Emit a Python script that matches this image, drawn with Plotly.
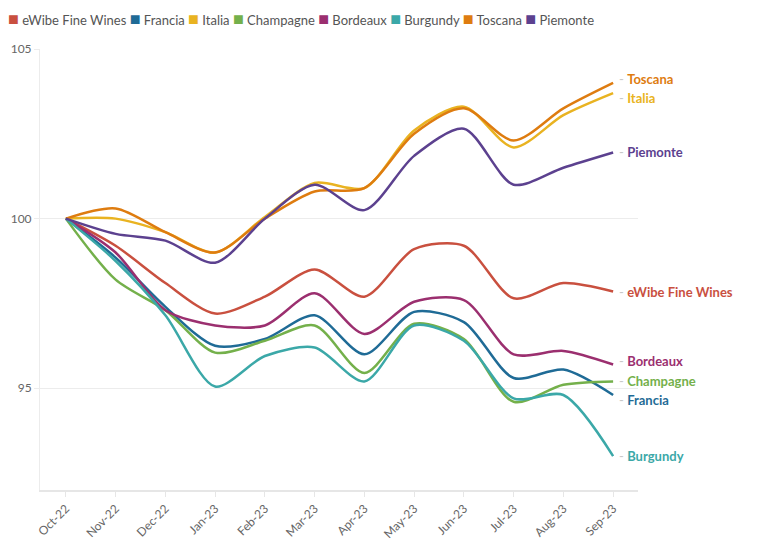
import plotly.graph_objects as go

months = ["Oct-22", "Nov-22", "Dec-22", "Jan-23", "Feb-23", "Mar-23",
          "Apr-23", "May-23", "Jun-23", "Jul-23", "Aug-23", "Sep-23"]

series_names = ["eWibe Fine Wines", "Francia", "Italia", "Champagne",
                "Bordeaux", "Burgundy", "Toscana", "Piemonte"]

ewibe = [100, 99.2, 98.1, 97.2, 97.7, 98.5, 97.7, 99.1, 99.2, 97.65, 98.1, 97.85]
francia = [100, 98.85, 97.4, 96.25, 96.45, 97.15, 96.0, 97.25, 96.95, 95.3, 95.55, 94.8]
italia = [100, 100.0, 99.6, 99.0, 100.05, 101.05, 100.9, 102.6, 103.3, 102.1, 103.05, 103.7]
champagne = [100, 98.2, 97.3, 96.05, 96.4, 96.85, 95.45, 96.9, 96.45, 94.6, 95.1, 95.2]
bordeaux = [100, 99.0, 97.3, 96.85, 96.85, 97.8, 96.6, 97.55, 97.6, 96.0, 96.1, 95.7]
burgundy = [100, 98.75, 97.15, 95.05, 95.95, 96.2, 95.2, 96.85, 96.4, 94.7, 94.8, 93.0]
toscana = [100, 100.3, 99.6, 99.0, 100.0, 100.8, 100.9, 102.5, 103.25, 102.3, 103.25, 104.0]
piemonte = [100, 99.55, 99.35, 98.7, 100.0, 101.0, 100.25, 101.85, 102.65, 101.0, 101.5, 101.95]

values = [ewibe, francia, italia, champagne, bordeaux, burgundy, toscana, piemonte]

colors = ["#c9503f", "#1f6b96", "#e9b321", "#74b04b",
          "#9b2f6f", "#3ba8a8", "#de7c10", "#5c418f"]

# small vertical nudges for end labels so they don't collide (px)
label_shift = {"Toscana": 4, "Italia": -5, "Francia": -5, "Bordeaux": 3}

FONT = "Lato"

fig = go.Figure()
for name, vals, col in zip(series_names, values, colors):
    fig.add_trace(go.Scatter(
        x=months, y=vals, name=name, mode="lines",
        line=dict(color=col, width=2.5, shape="spline", smoothing=0.8),
        showlegend=False, hoverinfo="x+y+name",
    ))
    fig.add_annotation(
        x=months[-1], y=vals[-1], xanchor="left", yanchor="middle",
        xshift=4, yshift=label_shift.get(name, 0), showarrow=False,
        text=f"<span style='color:#c8c8c8'>-</span> <b>{name}</b>",
        font=dict(family=FONT, size=13, color=col),
    )

# legend row built from colored squares + names
legend_text = "\u00a0".join(
    f"<span style='color:{c};font-size:18px'>■</span>\u00a0{n}" for n, c in zip(series_names, colors)
)
fig.add_annotation(
    xref="paper", yref="paper", x=0, y=1, xshift=-34, yshift=31,
    xanchor="left", yanchor="middle", showarrow=False,
    text=legend_text, font=dict(family=FONT, size=13, color="#555555"),
)

# page body adds an 8px offset, margins are trimmed to compensate
fig.update_layout(
    width=761, height=550, autosize=False,
    margin=dict(l=32, r=131, t=41, b=68),
    plot_bgcolor="white", paper_bgcolor="white",
    font=dict(family=FONT, color="#666666"),
    showlegend=False,
)
fig.update_xaxes(
    type="category", range=[-0.52, 11.5], tickangle=-45, showgrid=False,
    showline=True, linecolor="#e6e6e6", linewidth=2,
    ticks="outside", ticklen=5, tickcolor="#e6e6e6",
    tickfont=dict(family=FONT, size=12, color="#666666"),
    automargin=False,
)
fig.update_yaxes(
    range=[92, 105], tickvals=[95, 100, 105],
    showgrid=True, gridcolor="#ececec", zeroline=False,
    showline=True, linecolor="#ececec", linewidth=1,
    ticks="outside", ticklen=5, tickcolor="#ececec",
    tickfont=dict(family=FONT, size=12, color="#666666"),
    automargin=False,
)

fig.write_html("out.html")
